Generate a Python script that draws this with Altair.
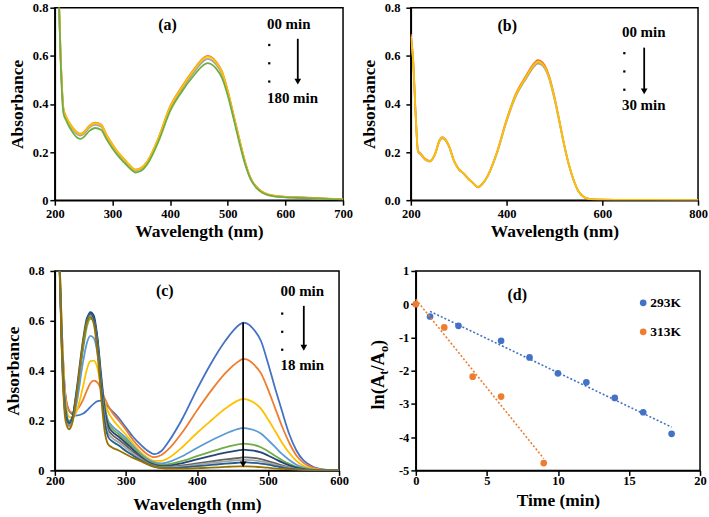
import altair as alt
import pandas as pd

FONT = "Liberation Serif"

# ---------------- panel (a) ----------------
wl_a = [200, 205, 210, 215, 220, 230, 240, 245, 250, 260, 270, 280, 290, 300, 310, 320, 330, 340, 350, 360,
        380, 400, 420, 440, 460, 465, 470, 480, 490, 500, 510, 520, 530, 540, 550, 560, 570, 580, 600, 620, 650, 700]
a_orange = [1.5, 1.0, 0.6, 0.38, 0.345, 0.305, 0.28, 0.276, 0.282, 0.31, 0.322, 0.315, 0.27, 0.232, 0.198, 0.172, 0.145, 0.127, 0.135, 0.16,
            0.26, 0.39, 0.47, 0.54, 0.595, 0.6, 0.597, 0.575, 0.535, 0.455, 0.355, 0.255, 0.16, 0.09, 0.055, 0.035, 0.024, 0.019, 0.014, 0.012, 0.009, 0.003]
a_gray = [1.5, 1.0, 0.6, 0.372, 0.338, 0.298, 0.272, 0.268, 0.274, 0.302, 0.313, 0.306, 0.262, 0.225, 0.192, 0.166, 0.14, 0.122, 0.13, 0.155,
          0.253, 0.38, 0.46, 0.528, 0.582, 0.587, 0.584, 0.563, 0.524, 0.446, 0.348, 0.25, 0.157, 0.088, 0.053, 0.033, 0.022, 0.017, 0.013, 0.011, 0.008, 0.003]
a_yellow = [1.5, 1.0, 0.6, 0.378, 0.343, 0.303, 0.278, 0.274, 0.28, 0.308, 0.32, 0.313, 0.268, 0.23, 0.197, 0.171, 0.144, 0.126, 0.134, 0.159,
            0.258, 0.387, 0.467, 0.537, 0.592, 0.597, 0.594, 0.572, 0.532, 0.452, 0.353, 0.253, 0.159, 0.089, 0.054, 0.034, 0.023, 0.018, 0.013, 0.011, 0.008, 0.003]
a_green = [1.5, 1.0, 0.58, 0.36, 0.33, 0.285, 0.258, 0.255, 0.262, 0.288, 0.3, 0.293, 0.252, 0.215, 0.183, 0.157, 0.132, 0.115, 0.122, 0.148,
           0.245, 0.37, 0.45, 0.515, 0.565, 0.57, 0.567, 0.547, 0.508, 0.435, 0.34, 0.24, 0.15, 0.085, 0.05, 0.031, 0.021, 0.016, 0.012, 0.01, 0.007, 0.002]
a_names = ["a0", "a1", "a2", "a3"]
a_colors = ["#ED7D31", "#A5A5A5", "#FFC000", "#70AD47"]

# ---------------- panel (b) ----------------
wl_b = [200, 205, 210, 215, 220, 230, 240, 250, 260, 265, 270, 280, 290, 300, 310, 320, 330, 340, 350, 360,
        380, 400, 420, 440, 460, 465, 470, 480, 490, 500, 510, 520, 530, 540, 550, 560, 570, 580, 600, 650, 700, 800]
b_orange = [0.69, 0.58, 0.36, 0.205, 0.195, 0.172, 0.163, 0.19, 0.25, 0.262, 0.258, 0.225, 0.165, 0.13, 0.112, 0.09, 0.072, 0.055, 0.07, 0.1,
            0.2, 0.335, 0.445, 0.515, 0.575, 0.582, 0.58, 0.56, 0.51, 0.43, 0.335, 0.235, 0.15, 0.085, 0.038, 0.015, 0.006, 0.003, 0.002, 0.001, 0.001, 0.0]
b_gray = [0.68, 0.57, 0.355, 0.2, 0.19, 0.168, 0.16, 0.187, 0.245, 0.257, 0.253, 0.22, 0.162, 0.128, 0.11, 0.088, 0.07, 0.053, 0.068, 0.097,
          0.195, 0.327, 0.434, 0.503, 0.561, 0.568, 0.566, 0.547, 0.498, 0.42, 0.327, 0.23, 0.147, 0.083, 0.037, 0.015, 0.006, 0.003, 0.002, 0.001, 0.001, 0.0]
b_yellow = [0.68, 0.575, 0.358, 0.202, 0.192, 0.17, 0.161, 0.188, 0.248, 0.26, 0.256, 0.223, 0.164, 0.129, 0.111, 0.089, 0.071, 0.054, 0.069, 0.099,
            0.198, 0.331, 0.44, 0.509, 0.568, 0.575, 0.573, 0.553, 0.504, 0.425, 0.331, 0.233, 0.149, 0.084, 0.038, 0.015, 0.006, 0.003, 0.002, 0.001, 0.001, 0.0]
b_names = ["b0", "b1", "b2"]
b_colors = ["#ED7D31", "#A5A5A5", "#FFC000"]

# ---------------- panel (c) ----------------
wl_c = [200, 205, 210, 215, 220, 225, 230, 240, 245, 250, 255, 260, 265, 270, 275, 280, 290, 300, 310, 320, 330, 340,
        350, 360, 380, 400, 420, 440, 460, 465, 470, 480, 490, 500, 510, 520, 530, 540, 550, 560, 570, 580, 600]
c_00 = [1.5, 1.0, 0.55, 0.3, 0.24, 0.225, 0.22, 0.228, 0.24, 0.255, 0.268, 0.278, 0.28, 0.268, 0.255, 0.24, 0.21, 0.172, 0.135, 0.105, 0.08, 0.065,
        0.078, 0.115, 0.21, 0.325, 0.43, 0.52, 0.585, 0.593, 0.59, 0.565, 0.52, 0.43, 0.33, 0.235, 0.145, 0.08, 0.04, 0.02, 0.008, 0.003, 0.0]
c_02 = [1.5, 1.0, 0.55, 0.3, 0.24, 0.232, 0.24, 0.285, 0.32, 0.35, 0.36, 0.352, 0.325, 0.29, 0.26, 0.235, 0.2, 0.163, 0.122, 0.09, 0.065, 0.053,
        0.062, 0.085, 0.155, 0.24, 0.32, 0.39, 0.44, 0.447, 0.445, 0.425, 0.39, 0.325, 0.25, 0.175, 0.11, 0.06, 0.03, 0.014, 0.006, 0.002, 0.0]
c_04 = [1.5, 1.0, 0.55, 0.28, 0.215, 0.21, 0.232, 0.34, 0.405, 0.438, 0.44, 0.41, 0.34, 0.275, 0.235, 0.21, 0.175, 0.143, 0.108, 0.075, 0.052, 0.038,
        0.038, 0.05, 0.095, 0.15, 0.2, 0.248, 0.283, 0.287, 0.285, 0.272, 0.248, 0.205, 0.158, 0.11, 0.07, 0.038, 0.018, 0.008, 0.003, 0.001, 0.0]
c_06 = [1.5, 1.0, 0.5, 0.26, 0.2, 0.205, 0.26, 0.44, 0.51, 0.54, 0.53, 0.47, 0.36, 0.26, 0.2, 0.18, 0.155, 0.13, 0.098, 0.068, 0.046, 0.032,
        0.028, 0.034, 0.058, 0.09, 0.12, 0.147, 0.168, 0.17, 0.169, 0.162, 0.148, 0.122, 0.094, 0.065, 0.042, 0.023, 0.011, 0.005, 0.002, 0.001, 0.0]
c_08 = [1.5, 1.0, 0.5, 0.25, 0.195, 0.215, 0.29, 0.49, 0.575, 0.608, 0.6, 0.53, 0.39, 0.26, 0.19, 0.17, 0.145, 0.12, 0.09, 0.062, 0.04, 0.027,
        0.022, 0.025, 0.038, 0.057, 0.075, 0.092, 0.105, 0.107, 0.106, 0.102, 0.093, 0.077, 0.059, 0.041, 0.026, 0.014, 0.007, 0.003, 0.001, 0.0, 0.0]
c_10 = [1.5, 1.0, 0.5, 0.24, 0.19, 0.215, 0.3, 0.51, 0.6, 0.635, 0.62, 0.53, 0.38, 0.25, 0.18, 0.158, 0.135, 0.11, 0.083, 0.057, 0.036, 0.023,
        0.018, 0.019, 0.029, 0.044, 0.058, 0.071, 0.081, 0.083, 0.082, 0.079, 0.072, 0.06, 0.046, 0.032, 0.02, 0.011, 0.005, 0.002, 0.001, 0.0, 0.0]
c_12 = [1.5, 1.0, 0.48, 0.23, 0.18, 0.205, 0.29, 0.51, 0.595, 0.625, 0.605, 0.51, 0.36, 0.23, 0.165, 0.145, 0.123, 0.1, 0.075, 0.052, 0.033, 0.02,
        0.015, 0.015, 0.02, 0.028, 0.036, 0.044, 0.05, 0.052, 0.052, 0.05, 0.045, 0.037, 0.029, 0.02, 0.012, 0.006, 0.003, 0.001, 0.0, 0.0, 0.0]
c_14 = [1.5, 1.0, 0.48, 0.22, 0.175, 0.2, 0.29, 0.51, 0.595, 0.62, 0.6, 0.5, 0.345, 0.215, 0.15, 0.132, 0.112, 0.09, 0.068, 0.047, 0.029, 0.017,
        0.012, 0.012, 0.016, 0.023, 0.03, 0.036, 0.041, 0.042, 0.042, 0.04, 0.036, 0.03, 0.023, 0.016, 0.01, 0.005, 0.002, 0.001, 0.0, 0.0, 0.0]
c_16 = [1.5, 1.0, 0.47, 0.22, 0.19, 0.215, 0.31, 0.53, 0.61, 0.63, 0.605, 0.5, 0.34, 0.2, 0.135, 0.118, 0.1, 0.078, 0.06, 0.042, 0.026, 0.015,
        0.01, 0.009, 0.012, 0.017, 0.022, 0.027, 0.031, 0.032, 0.032, 0.03, 0.027, 0.023, 0.017, 0.012, 0.007, 0.004, 0.002, 0.001, 0.0, 0.0, 0.0]
c_18 = [1.5, 1.0, 0.45, 0.2, 0.165, 0.195, 0.29, 0.52, 0.595, 0.615, 0.585, 0.47, 0.3, 0.16, 0.105, 0.093, 0.08, 0.065, 0.05, 0.038, 0.025, 0.014,
        0.009, 0.007, 0.007, 0.009, 0.011, 0.014, 0.016, 0.016, 0.016, 0.015, 0.013, 0.011, 0.008, 0.006, 0.004, 0.002, 0.001, 0.0, 0.0, 0.0, 0.0]
c_series = [c_00, c_02, c_04, c_06, c_08, c_10, c_12, c_14, c_16, c_18]
c_names = ["c00", "c02", "c04", "c06", "c08", "c10", "c12", "c14", "c16", "c18"]
c_colors = ["#4472C4", "#ED7D31", "#FFC000", "#5B9BD5", "#70AD47", "#264478",
            "#636363", "#A5A5A5", "#255E91", "#997300"]

# ---------------- panel (d) ----------------
t_293 = [1, 3, 6, 8, 10, 12, 14, 16, 18]
v_293 = [-0.37, -0.65, -1.1, -1.6, -2.08, -2.35, -2.82, -3.25, -3.9]
t_313 = [0, 2, 4, 6, 9]
v_313 = [0.0, -0.7, -2.18, -2.78, -4.78]
d_names = ["293K", "313K"]
d_colors = ["#4472C4", "#ED7D31"]
d_yticks = [-5, -4, -3, -2, -1, 0, 1]


def long_df(wl, series, names):
    rows = []
    for name, vals in zip(names, series):
        for w, v in zip(wl, vals):
            rows.append({"wl": w, "A": v, "s": name})
    return pd.DataFrame(rows)


def text_layer(df, size, align="left"):
    return alt.Chart(df).mark_text(font=FONT, fontWeight="bold", fontSize=size, align=align,
                                   baseline="middle", color="black").encode(
        x="wl:Q", y="A:Q", text="label:N")


def arrow_layer(x, y_top, y_head):
    shaft = alt.Chart(pd.DataFrame({"wl": [x], "A": [y_top], "A2": [y_head]})).mark_rule(
        color="black", strokeWidth=1.8).encode(x="wl:Q", y="A:Q", y2="A2:Q")
    head = alt.Chart(pd.DataFrame({"wl": [x], "A": [y_head]})).mark_point(
        shape="triangle-down", filled=True, color="black", size=45, opacity=1).encode(x="wl:Q", y="A:Q")
    return shaft + head


def dots_layer(x, ys):
    return alt.Chart(pd.DataFrame({"wl": [x] * len(ys), "A": ys})).mark_square(
        color="black", size=5, opacity=1).encode(x="wl:Q", y="A:Q")


def spectra(df, names, colors, xdomain, xticks, yfmt, w, h, ytitle_pad, xtitle_pad, label_pad, xlabel_pad):
    x = alt.X("wl:Q", scale=alt.Scale(domain=xdomain, nice=False, zero=False),
              axis=alt.Axis(values=xticks, title="Wavelength (nm)", titlePadding=xtitle_pad,
                            labelFlush=False, labelPadding=xlabel_pad))
    y = alt.Y("A:Q", scale=alt.Scale(domain=[0, 0.8], nice=False),
              axis=alt.Axis(values=[0, 0.2, 0.4, 0.6, 0.8], format=yfmt, title="Absorbance",
                            titlePadding=ytitle_pad, labelPadding=label_pad, labelOverlap=False))
    return alt.Chart(df).mark_line(clip=True, interpolate="monotone", strokeWidth=1.8).encode(
        x=x, y=y, color=alt.Color("s:N", scale=alt.Scale(domain=names, range=colors), legend=None)
    ).properties(width=w, height=h)


# (a)
df_a = long_df(wl_a, [a_orange, a_gray, a_yellow, a_green], a_names)
pa = spectra(df_a, a_names, a_colors, [200, 700], [200, 300, 400, 500, 600, 700], ".1~f", 289, 193, 6, 3, 2, 2)
pa = alt.layer(
    pa,
    text_layer(pd.DataFrame({"wl": [395.5], "A": [0.73], "label": ["(a)"]}), 16, "center"),
    text_layer(pd.DataFrame({"wl": [568, 568], "A": [0.734, 0.424], "label": ["00 min", "180 min"]}), 15),
    dots_layer(572, [0.645, 0.569, 0.493]),
    arrow_layer(621.5, 0.671, 0.493),
)

# (b)
df_b = long_df(wl_b, [b_orange, b_gray, b_yellow], b_names)
pb = spectra(df_b, b_names, b_colors, [200, 800], [200, 400, 600, 800], ".1f", 288, 193, 6, 3, 6, 2)
pb = alt.layer(
    pb,
    text_layer(pd.DataFrame({"wl": [401.5], "A": [0.725], "label": ["(b)"]}), 16, "center"),
    text_layer(pd.DataFrame({"wl": [641, 641], "A": [0.70, 0.397], "label": ["00 min", "30 min"]}), 15),
    dots_layer(646, [0.611, 0.535, 0.459]),
    arrow_layer(687.5, 0.634, 0.452),
)

# (c)
df_c = long_df(wl_c, c_series, c_names)
pc = spectra(df_c, c_names, c_colors, [200, 600], [200, 300, 400, 500, 600], ".1~f", 285, 200, 6, 9, 6, -1)
pc = alt.layer(
    pc,
    arrow_layer(465, 0.593, 0.024),
    text_layer(pd.DataFrame({"wl": [354.8], "A": [0.72], "label": ["(c)"]}), 16, "center"),
    text_layer(pd.DataFrame({"wl": [517.6, 517.6], "A": [0.72, 0.423], "label": ["00 min", "18 min"]}), 15),
    dots_layer(520, [0.629, 0.556, 0.484]),
    arrow_layer(550.4, 0.66, 0.492),
)

# (d)
df_d = pd.DataFrame({"t": t_293 + t_313, "v": v_293 + v_313,
                     "s": ["293K"] * len(t_293) + ["313K"] * len(t_313)})
xd = alt.X("t:Q", scale=alt.Scale(domain=[0, 20], nice=False),
           axis=alt.Axis(values=[0, 5, 10, 15, 20], title="Time (min)", titlePadding=5,
                         labelFlush=False, labelPadding=-1))
yd = alt.Y("v:Q", scale=alt.Scale(domain=[-5, 1], nice=False),
           axis=alt.Axis(values=d_yticks, title="", labelPadding=2, labelOverlap=False,
                         labelExpr="datum.value < 0 ? '-' + abs(datum.value) : '' + datum.value"))
cd = alt.Color("s:N", scale=alt.Scale(domain=d_names, range=d_colors), legend=None)
pts = alt.Chart(df_d).mark_circle(size=45, opacity=1).encode(x=xd, y=yd, color=cd)
trend = alt.Chart(df_d).transform_regression("t", "v", groupby=["s"]).mark_line(
    strokeDash=[2, 2], strokeWidth=1.6).encode(x=xd, y=yd, color=cd)
leg_df = pd.DataFrame({"t": [16.0, 16.0], "v": [0.04, -0.83], "s": d_names})
leg_pts = alt.Chart(leg_df).mark_circle(size=45, opacity=1).encode(x=xd, y=yd, color=cd)
leg_txt = alt.Chart(leg_df.assign(t=16.5)).mark_text(
    font=FONT, fontWeight="bold", fontSize=13.5, align="left", baseline="middle", color="black"
).encode(x=xd, y=yd, text="s:N")
d_lab = alt.Chart(pd.DataFrame({"t": [7.14], "v": [0.28], "label": ["(d)"]})).mark_text(
    font=FONT, fontWeight="bold", fontSize=16, align="center", baseline="middle", color="black"
).encode(x=xd, y=yd, text="label:N")

# y-axis title ln(At/Ao) with subscripts
F, f = 18.5, 12.5
pieces = [("ln(A", F, False, 1.889 * F), ("t", f, True, 0.333 * f), ("/A", F, False, 1.0 * F),
          ("o", f, True, 0.5 * f), (")", F, False, 0.333 * F)]
title_layers = []
ypos = 139.0
for txt, size, sub, wdt in pieces:
    title_layers.append(
        alt.Chart(pd.DataFrame({"label": [txt]})).mark_text(
            font=FONT, fontWeight="bold", fontSize=size, align="left", baseline="alphabetic",
            angle=270, color="black").encode(
            x=alt.value(-28 if sub else -32), y=alt.value(ypos), text="label:N"))
    ypos -= wdt

pd_chart = alt.layer(pts, trend, leg_pts, leg_txt, d_lab, *title_layers).properties(width=285, height=200)

row1 = alt.hconcat(pa, pb, spacing=68, bounds="flush").resolve_scale(color="independent")
row2 = alt.hconcat(pc, pd_chart, spacing=77, bounds="flush").resolve_scale(color="independent")
chart = alt.vconcat(row1, row2, spacing=264, bounds="flush").resolve_scale(color="independent")

chart = chart.properties(
    padding={"left": 3, "top": 0, "right": 0, "bottom": 0}, background="white"
).configure_axis(
    domainColor="black", domainWidth=1.5, tickColor="black", tickWidth=1.5, tickSize=5,
    labelFont=FONT, labelFontSize=12.5, labelFontWeight="bold", labelColor="black",
    titleFont=FONT, titleFontSize=17.5, titleFontWeight="bold", titleColor="black", grid=False,
).configure_view(stroke="black", strokeWidth=1.5)

chart.save("out.html", embed_options={"renderer": "svg", "actions": False})
